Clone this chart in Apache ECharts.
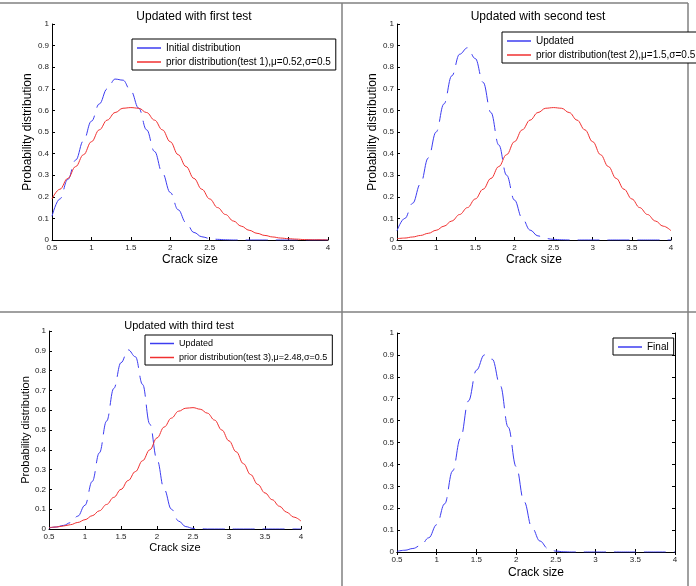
<!DOCTYPE html>
<html>
<head>
<meta charset="utf-8">
<script src="https://cdn.jsdelivr.net/npm/echarts@6/dist/echarts.min.js"></script>
</head>
<body style="margin:0;">
<div id="main" style="width:696px;height:586px;"></div>
<script type="text/javascript">
// crack size samples (x) shared by every curve
var crackSize = [0.5,0.6,0.7,0.8,0.9,1.0,1.1,1.2,1.3,1.4,1.5,1.6,1.7,1.8,1.9,2.0,2.1,2.2,2.3,2.4,2.5,2.6,2.7,2.8,2.9,3.0,3.1,3.2,3.3,3.4,3.5,3.6,3.7,3.8,3.9,4.0];

// panel 1
var initial1 = [0.11,0.19,0.28,0.37,0.46,0.55,0.63,0.70,0.745,0.74,0.69,0.61,0.51,0.41,0.31,0.22,0.14,0.08,0.035,0.015,0.007,0.003,0.001,0,0,0,0,0,0,0,0,0,0,0,0,0];
var prior1 = [0.19,0.235,0.285,0.34,0.395,0.455,0.51,0.555,0.59,0.61,0.613,0.61,0.59,0.555,0.51,0.455,0.395,0.34,0.285,0.235,0.19,0.15,0.118,0.088,0.064,0.045,0.031,0.021,0.014,0.009,0.006,0.004,0.002,0.001,0.001,0];
// panel 2
var updated2 = [0.043,0.1,0.17,0.26,0.38,0.5,0.63,0.76,0.86,0.89,0.84,0.73,0.59,0.44,0.3,0.185,0.1,0.046,0.019,0.007,0.003,0.001,0,0,0,0,0,0,0,0,0,0,0,0,0,0];
var prior2 = [0.006,0.009,0.014,0.021,0.031,0.045,0.064,0.088,0.118,0.15,0.19,0.235,0.285,0.34,0.395,0.455,0.51,0.555,0.59,0.61,0.613,0.61,0.59,0.555,0.51,0.455,0.395,0.34,0.285,0.235,0.19,0.15,0.118,0.088,0.064,0.043];
// panel 3
var updated3 = [0.005,0.01,0.018,0.032,0.065,0.12,0.24,0.385,0.545,0.71,0.84,0.905,0.87,0.73,0.53,0.35,0.2,0.1,0.04,0.012,0.003,0.001,0,0,0,0,0,0,0,0,0,0,0,0,0,0];
var prior3 = [0.007,0.01,0.015,0.022,0.033,0.047,0.067,0.092,0.124,0.16,0.2,0.245,0.29,0.345,0.4,0.46,0.515,0.56,0.595,0.61,0.613,0.605,0.585,0.55,0.5,0.445,0.39,0.33,0.275,0.225,0.182,0.148,0.115,0.085,0.06,0.04];
// panel 4
var final4 = [0.003,0.008,0.016,0.03,0.065,0.125,0.22,0.37,0.52,0.69,0.83,0.9,0.88,0.76,0.57,0.39,0.23,0.11,0.05,0.016,0.004,0.001,0,0,0,0,0,0,0,0,0,0,0,0,0,0];

var titles = ['Updated with first test', 'Updated with second test', 'Updated with third test'];
var legendNames = [
  ['Initial distribution', 'prior distribution(test 1),\u03bc=0.52,\u03c3=0.5'],
  ['Updated', 'prior distribution(test 2),\u03bc=1.5,\u03c3=0.5'],
  ['Updated', 'prior distribution(test 3),\u03bc=2.48,\u03c3=0.5'],
  ['Final']
];

var FONT = '"Liberation Sans", Arial, sans-serif';
var BLUE = '#3c3cf0';
var RED = '#f03030';

function pairs(ys) {
  return crackSize.map(function (x, i) { return [x, ys[i]]; });
}

function xAx(g, nameSize, gap) {
  return {
    gridIndex: g, type: 'value', min: 0.5, max: 4, interval: 0.5,
    name: 'Crack size', nameLocation: 'middle', nameGap: gap,
    nameTextStyle: { fontSize: nameSize, color: '#000', fontFamily: FONT },
    axisLine: { lineStyle: { color: '#000', width: 1 } },
    axisTick: { inside: true, length: 3, lineStyle: { color: '#000' } },
    axisLabel: { fontSize: 8, color: '#222', margin: 4, fontFamily: FONT },
    splitLine: { show: false }
  };
}
function yAx(g, name, nameSize, gap) {
  return {
    gridIndex: g, type: 'value', min: 0, max: 1, interval: 0.1,
    name: name, nameLocation: 'middle', nameGap: gap,
    nameTextStyle: { fontSize: nameSize, color: '#000', fontFamily: FONT },
    axisLine: { show: true, lineStyle: { color: '#000', width: 1 } },
    axisTick: { show: true, inside: true, length: 3, lineStyle: { color: '#000' } },
    axisLabel: { fontSize: 8, color: '#222', margin: 3, fontFamily: FONT },
    splitLine: { show: false }
  };
}
function curve(name, g, ys, color, dashed) {
  return {
    name: name, type: 'line', xAxisIndex: g, yAxisIndex: g,
    data: pairs(ys), symbol: 'none', showSymbol: false,
    smooth: 0.4, smoothMonotone: 'x', color: color,
    lineStyle: { color: color, width: 1, type: dashed ? [22, 8] : 'solid' },
    emphasis: { disabled: true }, silent: true
  };
}
function legend(names, left, top, fontSize, gap) {
  return {
    left: left, top: top, orient: 'vertical', selectedMode: false,
    borderColor: '#000', borderWidth: 1, backgroundColor: '#fff',
    padding: [4, 5, 3, 5], itemGap: gap, itemWidth: 24, itemHeight: 1.5,
    icon: 'rect', textStyle: { fontSize: fontSize, color: '#000', fontFamily: FONT },
    data: names
  };
}
function frame(x1, y1, x2, y2) {
  return { type: 'line', silent: true, shape: { x1: x1, y1: y1, x2: x2, y2: y2 },
    style: { stroke: '#808080', lineWidth: 1.5 } };
}

var myChart = echarts.init(document.getElementById('main'));
var option = {
  backgroundColor: '#fff',
  animation: false,
  title: [
    { text: titles[0], left: 189, top: 6, textAlign: 'center', textStyle: { fontSize: 12, fontWeight: 'normal', color: '#000', fontFamily: FONT } },
    { text: titles[1], left: 533, top: 6, textAlign: 'center', textStyle: { fontSize: 12, fontWeight: 'normal', color: '#000', fontFamily: FONT } },
    { text: titles[2], left: 174, top: 315, textAlign: 'center', textStyle: { fontSize: 11, fontWeight: 'normal', color: '#000', fontFamily: FONT } }
  ],
  grid: [
    { left: 52, top: 24, width: 276, height: 216 },
    { left: 397, top: 24, width: 274, height: 216 },
    { left: 49, top: 331, width: 252, height: 198 },
    { left: 397, top: 333, width: 278, height: 219 }
  ],
  xAxis: [
    xAx(0, 12, 14), xAx(1, 12, 14), xAx(2, 11, 13), xAx(3, 12, 15),
    { gridIndex: 3, type: 'value', position: 'top', min: 0.5, max: 4, interval: 0.5,
      axisLine: { lineStyle: { color: '#000' } }, axisLabel: { show: false },
      axisTick: { inside: true, length: 3, lineStyle: { color: '#000' } }, splitLine: { show: false } }
  ],
  yAxis: [
    yAx(0, 'Probability distribution', 12, 18),
    yAx(1, 'Probability distribution', 12, 18),
    yAx(2, 'Probability distribution', 11, 17),
    yAx(3, '', 12, 20),
    { gridIndex: 3, type: 'value', position: 'right', min: 0, max: 1, interval: 0.1,
      axisLine: { show: true, lineStyle: { color: '#000' } }, axisLabel: { show: false },
      axisTick: { show: true, inside: true, length: 3, lineStyle: { color: '#000' } }, splitLine: { show: false } }
  ],
  legend: [
    legend(legendNames[0], 132, 39, 10, 4),
    legend(legendNames[1], 502, 32, 10, 4),
    legend(legendNames[2], 145, 335, 9, 5),
    legend(legendNames[3], 613, 338, 10, 4)
  ],
  series: [
    curve(legendNames[0][0], 0, initial1, BLUE, true),
    curve(legendNames[0][1], 0, prior1, RED, false),
    curve(legendNames[1][0], 1, updated2, BLUE, true),
    curve(legendNames[1][1], 1, prior2, RED, false),
    curve(legendNames[2][0], 2, updated3, BLUE, true),
    curve(legendNames[2][1], 2, prior3, RED, false),
    curve(legendNames[3][0], 3, final4, BLUE, true)
  ],
  graphic: [
    frame(0, 3, 688, 3),
    frame(342, 3, 342, 586),
    frame(688, 3, 688, 586),
    frame(0, 312, 696, 312)
  ]
};
myChart.setOption(option);
</script>
</body>
</html>
